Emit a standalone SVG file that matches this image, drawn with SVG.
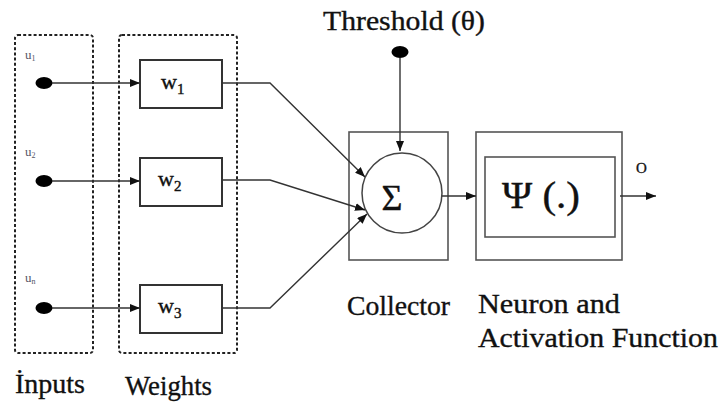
<svg xmlns="http://www.w3.org/2000/svg" width="721" height="410" viewBox="0 0 721 410">
  <style>
    text { font-family: "Liberation Serif", "Times New Roman", serif; fill: #111; }
    .group { fill: none; stroke: #222; stroke-width: 2; stroke-dasharray: 3 2.2; }
    .wbox { fill: #fff; stroke: #333; stroke-width: 2; }
    .block { fill: none; stroke: #555; stroke-width: 1.6; }
    .wire { fill: none; stroke: #333; stroke-width: 1.4; }
    .dot { fill: #000; }
    .lbl { font-size: 27px; stroke: #111; stroke-width: 0.35; }
    .u { font-size: 13px; fill: #556; }
    .w { font-size: 22px; stroke: #111; stroke-width: 0.4; }
    .sub { font-size: 15px; }
  </style>
  <defs>
    <marker id="arrow" viewBox="0 0 10 8" refX="10" refY="4" markerWidth="10" markerHeight="8" markerUnits="userSpaceOnUse" orient="auto">
      <path d="M0,0 L10,4 L0,8 z" fill="#111"/>
    </marker>
  </defs>

  <!-- group frames -->
  <rect class="group" x="15" y="35" width="78" height="318" rx="3"/>
  <rect class="group" x="119" y="35" width="118" height="318" rx="3"/>

  <!-- inputs -->
  <g id="input-1">
    <ellipse class="dot" cx="44" cy="83" rx="8.5" ry="6"/>
    <text class="u" x="25" y="59">u<tspan font-size="8" dy="2">1</tspan></text>
  </g>
  <g id="input-2">
    <ellipse class="dot" cx="44" cy="181" rx="8.5" ry="6"/>
    <text class="u" x="25" y="156">u<tspan font-size="8" dy="2">2</tspan></text>
  </g>
  <g id="input-n">
    <ellipse class="dot" cx="44" cy="308" rx="8.5" ry="6"/>
    <text class="u" x="25" y="282">u<tspan font-size="8" dy="2">n</tspan></text>
  </g>

  <!-- weights -->
  <g id="weight-1">
    <rect class="wbox" x="140" y="60" width="82" height="48"/>
    <text class="w" x="161" y="89">w<tspan class="sub" dy="5">1</tspan></text>
  </g>
  <g id="weight-2">
    <rect class="wbox" x="140" y="158" width="82" height="48"/>
    <text class="w" x="158" y="186">w<tspan class="sub" dy="5">2</tspan></text>
  </g>
  <g id="weight-3">
    <rect class="wbox" x="140" y="285" width="82" height="48"/>
    <text class="w" x="158" y="313">w<tspan class="sub" dy="5">3</tspan></text>
  </g>

  <!-- threshold -->
  <g id="threshold">
    <text class="lbl" x="323" y="30" textLength="162" lengthAdjust="spacingAndGlyphs">Threshold (θ)</text>
    <ellipse class="dot" cx="400" cy="52" rx="8.5" ry="6"/>
  </g>

  <!-- summing junction -->
  <g id="collector">
    <rect class="block" x="349" y="132" width="99" height="128"/>
    <circle cx="402" cy="193" r="40" fill="#fff" stroke="#444" stroke-width="1.5"/>
    <text x="392" y="210" font-size="36" text-anchor="middle" stroke="#111" stroke-width="0.4">Σ</text>
    <text class="lbl" x="347" y="315" textLength="103" lengthAdjust="spacingAndGlyphs">Collector</text>
  </g>

  <!-- neuron and activation -->
  <g id="neuron">
    <rect class="block" x="476" y="132" width="146" height="128"/>
    <rect class="block" x="485" y="157" width="130" height="80"/>
    <text x="502" y="208" font-size="38" textLength="78" lengthAdjust="spacingAndGlyphs" stroke="#111" stroke-width="0.4">Ψ (.)</text>
    <text x="636" y="173" font-size="15" stroke="#111" stroke-width="0.3">O</text>
    <text class="lbl" x="478" y="313" textLength="142" lengthAdjust="spacingAndGlyphs">Neuron and</text>
    <text class="lbl" x="478" y="347" textLength="240" lengthAdjust="spacingAndGlyphs">Activation Function</text>
  </g>

  <!-- group captions -->
  <text class="lbl" x="15" y="393" textLength="70" lengthAdjust="spacingAndGlyphs">İnputs</text>
  <text class="lbl" x="125" y="395" textLength="87" lengthAdjust="spacingAndGlyphs">Weights</text>

  <!-- connectors -->
  <g id="connectors">
    <line class="wire" x1="52" y1="83" x2="140" y2="83" marker-end="url(#arrow)"/>
    <line class="wire" x1="52" y1="181" x2="140" y2="181" marker-end="url(#arrow)"/>
    <line class="wire" x1="52" y1="308" x2="140" y2="308" marker-end="url(#arrow)"/>
    <polyline class="wire" points="222,83 270,83 365,177" marker-end="url(#arrow)"/>
    <polyline class="wire" points="222,180 270,180 365,210" marker-end="url(#arrow)"/>
    <polyline class="wire" points="222,308 270,308 367,214" marker-end="url(#arrow)"/>
    <line class="wire" x1="400" y1="58" x2="400" y2="151" marker-end="url(#arrow)"/>
    <line class="wire" x1="442" y1="196" x2="476" y2="196" marker-end="url(#arrow)"/>
    <line class="wire" x1="620" y1="196" x2="656" y2="196" marker-end="url(#arrow)"/>
  </g>
</svg>
